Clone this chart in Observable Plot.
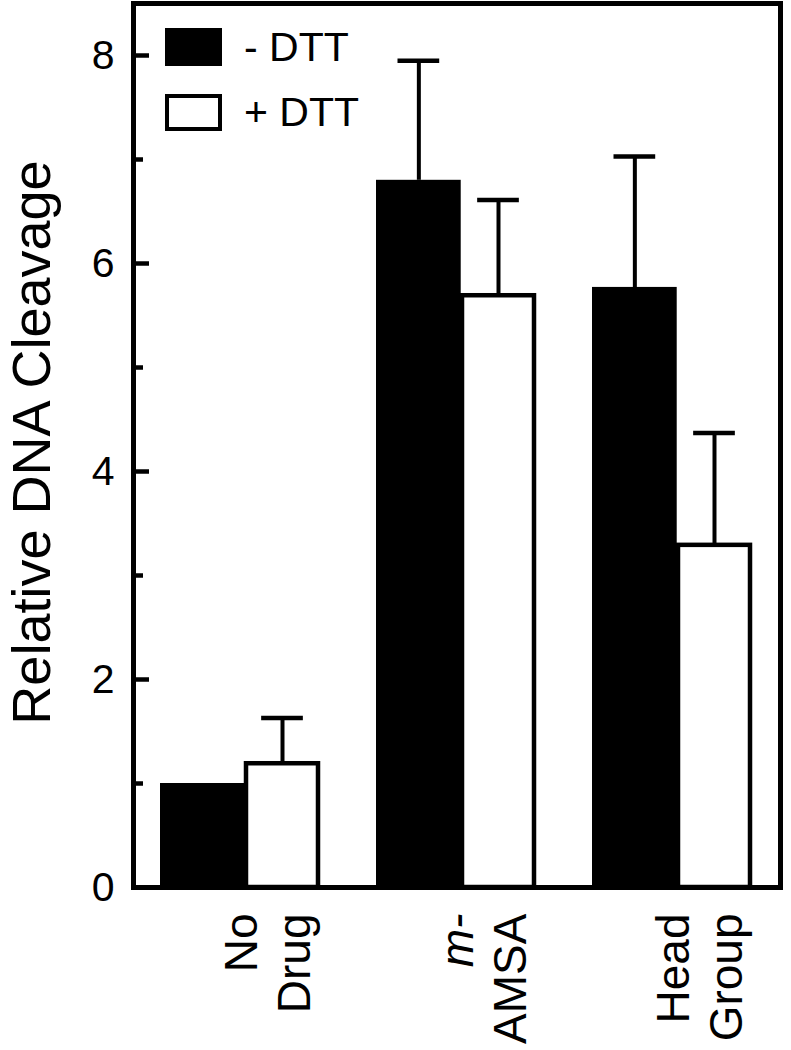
<!DOCTYPE html>
<html>
<head>
<meta charset="utf-8">
<script src="https://cdn.jsdelivr.net/npm/d3@7"></script>
<script src="https://cdn.jsdelivr.net/npm/@observablehq/plot@0.6"></script>
<style>
  html, body { margin: 0; padding: 0; background: #fff; }
  #wrap { position: relative; width: 791px; height: 1050px; font-family: "Liberation Sans", Arial, sans-serif; }
  .leg { position: absolute; display: flex; align-items: center; font-size: 41px; color: #000; }
  .sw { width: 57px; height: 37px; box-sizing: border-box; margin-right: 22px; }
</style>
</head>
<body>
<div id="wrap"></div>
<script>
// ---- data ----
const groups = ["No Drug", "m-AMSA", "Head Group"];
const line1 = ["No", "m-", "Head"];
const line2 = ["Drug", "AMSA", "Group"];
const italicLine1 = [false, true, false];
const minusDTT = [1.0, 6.80, 5.77];
const minusErr = [0, 1.15, 1.26];
const plusDTT = [1.19, 5.69, 3.29];
const plusErr = [0.44, 0.92, 1.08];
const majorTicks = [0, 2, 4, 6, 8];
const minorTicks = [1, 3, 5, 7];
const seriesNames = ["- DTT", "+ DTT"];

const rows = groups.map((g, i) => ({
  group: g, l1: line1[i], l2: line2[i], it: italicLine1[i],
  minus: minusDTT[i], minusE: minusErr[i], plus: plusDTT[i], plusE: plusErr[i]
}));

// ---- layout ----
const W = 791, H = 1050;
const mL = 133, mR = 11, mT = 3, mB = 163;
const pIn = 0.2535, pOut = 0.124;
const plotW = W - mL - mR;
const step = plotW / (3 - pIn + 2 * pOut);
const bw = step * (1 - pIn);
const blackW = 85;
const whiteL = 86, whiteR = 3;
const blackC = blackW / 2 - bw / 2;
const whiteC = (whiteL + (bw - whiteR)) / 2 - bw / 2;
const capHalf = 21;
const font = "Liberation Sans, Arial, sans-serif";

const chart = Plot.plot({
  width: W, height: H,
  marginLeft: mL, marginRight: mR, marginTop: mT, marginBottom: mB,
  style: {fontFamily: font, background: "#fff", color: "#000"},
  x: {type: "band", domain: groups, paddingInner: pIn, paddingOuter: pOut, axis: null},
  y: {domain: [0, 8.5], axis: null},
  marks: [
    // bars
    Plot.barY(rows, {x: "group", y: "minus", fill: "#000", insetLeft: 0, insetRight: bw - blackW}),
    Plot.barY(rows, {x: "group", y: "plus", fill: "#fff", stroke: "#000", strokeWidth: 4.5, insetLeft: whiteL, insetRight: whiteR}),
    // error bars
    Plot.ruleX(rows.filter(d => d.minusE > 0), {x: "group", y1: "minus", y2: d => d.minus + d.minusE, dx: blackC, stroke: "#000", strokeWidth: 4}),
    Plot.tickY(rows.filter(d => d.minusE > 0), {x: "group", y: d => d.minus + d.minusE, stroke: "#000", strokeWidth: 4.5,
      insetLeft: blackW / 2 - capHalf, insetRight: bw - blackW / 2 - capHalf}),
    Plot.ruleX(rows.filter(d => d.plusE > 0), {x: "group", y1: "plus", y2: d => d.plus + d.plusE, dx: whiteC, stroke: "#000", strokeWidth: 4}),
    Plot.tickY(rows.filter(d => d.plusE > 0), {x: "group", y: d => d.plus + d.plusE, stroke: "#000", strokeWidth: 4.5,
      insetLeft: bw / 2 + whiteC - capHalf, insetRight: bw / 2 - whiteC - capHalf}),
    // inward y ticks
    Plot.tickY(majorTicks.filter(v => v > 0), {y: d => d, stroke: "#000", strokeWidth: 4.5, insetRight: plotW - 16}),
    Plot.tickY(minorTicks, {y: d => d, stroke: "#000", strokeWidth: 4.5, insetRight: plotW - 10}),
    // y tick labels
    Plot.axisY({ticks: majorTicks, tickSize: 0, tickPadding: 19, fontSize: 41, label: null, tickFormat: d => String(d)}),
    // y label
    Plot.text(["Relative DNA Cleavage"], {text: d => d, frameAnchor: "left", textAnchor: "middle", rotate: -90, dx: -101, dy: -3, fontSize: 54, lineAnchor: "middle", fill: "#000"}),
    // x labels (rotated, two lines)
    Plot.text(rows.filter(d => !d.it), {x: "group", text: "l1", frameAnchor: "bottom", rotate: -90, textAnchor: "end", lineAnchor: "bottom", dy: 26, dx: 16, fontSize: 46, fill: "#000"}),
    Plot.text(rows.filter(d => d.it), {x: "group", text: "l1", frameAnchor: "bottom", rotate: -90, textAnchor: "end", lineAnchor: "bottom", dy: 26, dx: 16, fontSize: 46, fontStyle: "italic", fill: "#000"}),
    Plot.text(rows, {x: "group", text: "l2", frameAnchor: "bottom", rotate: -90, textAnchor: "end", lineAnchor: "bottom", dy: 26, dx: 69, fontSize: 46, fill: "#000"}),
    // frame
    Plot.frame({stroke: "#000", strokeWidth: 5})
  ]
});

const wrap = document.getElementById("wrap");
wrap.appendChild(chart);

// legend (inside the frame, top-left)
const legendRows = [
  {name: seriesNames[0], fill: "#000", border: "none", top: 28, h: 38},
  {name: seriesNames[1], fill: "#fff", border: "4.5px solid #000", top: 94, h: 37}
];
legendRows.forEach(r => {
  const row = document.createElement("div");
  row.className = "leg";
  row.style.left = "165px";
  row.style.top = r.top + "px";
  row.style.height = r.h + "px";
  const sw = document.createElement("div");
  sw.className = "sw";
  sw.style.background = r.fill;
  sw.style.border = r.border;
  sw.style.height = r.h + "px";
  const t = document.createElement("span");
  t.textContent = r.name;
  t.style.lineHeight = "1";
  row.appendChild(sw);
  row.appendChild(t);
  wrap.appendChild(row);
});
</script>
</body>
</html>
